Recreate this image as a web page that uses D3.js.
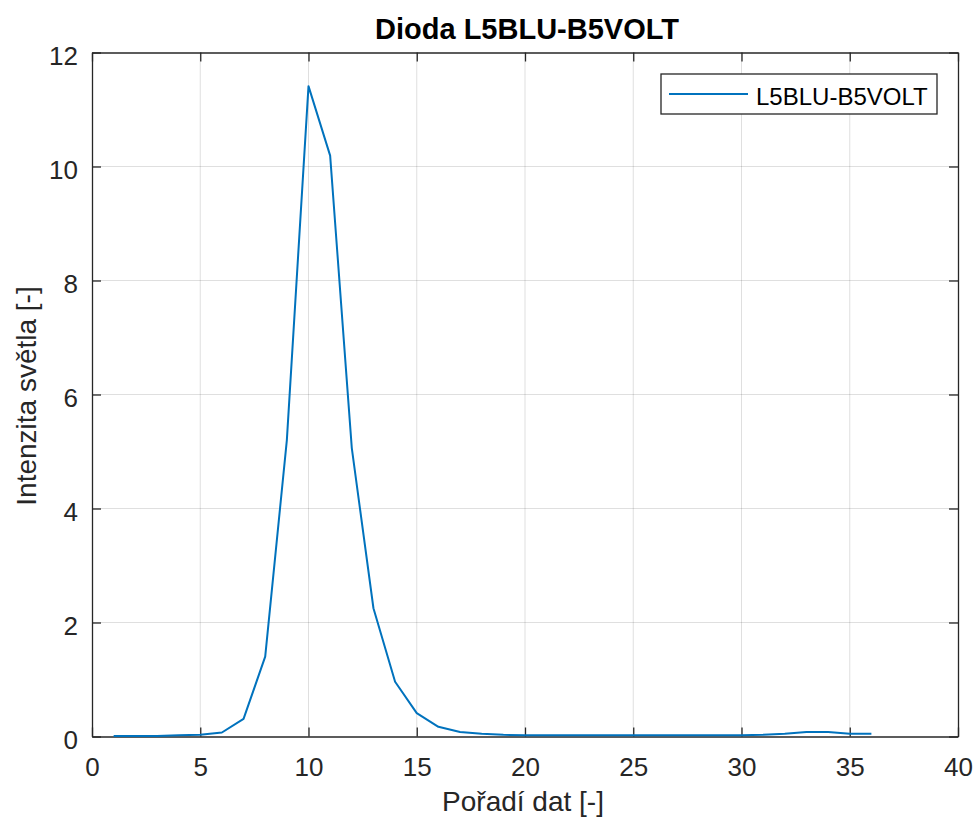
<!DOCTYPE html>
<html lang="cs">
<head>
    <meta charset="UTF-8">
    <title>Dioda L5BLU-B5VOLT</title>
    <script src="https://d3js.org/d3.v7.min.js"></script>
    <style>
        body { margin: 0; background: #fff; font-family: "Liberation Sans", Arial, sans-serif; }
        .grid line { stroke: #262626; stroke-opacity: 0.15; }
        .axis text { fill: #262626; }
    </style>
</head>
<body>
    <svg width="976" height="822"></svg>
    <script>
        // measured data (index 1..36)
        var poradi = d3.range(1, 37);
        var intenzita = [0.01, 0.01, 0.01, 0.02, 0.03, 0.07, 0.31, 1.40, 5.20, 11.41,
                         10.19, 5.06, 2.25, 0.96, 0.41, 0.17, 0.08, 0.05, 0.03, 0.02,
                         0.02, 0.02, 0.02, 0.02, 0.02, 0.02, 0.02, 0.02, 0.02, 0.02,
                         0.03, 0.05, 0.08, 0.08, 0.05, 0.05];
        var xTicks = [0, 5, 10, 15, 20, 25, 30, 35, 40];
        var yTicks = [0, 2, 4, 6, 8, 10, 12];
        var seriesName = "L5BLU-B5VOLT";

        var margin = { left: 92, top: 52.5, right: 18, bottom: 85.5 };
        var width = 976, height = 822;
        var svg = d3.select("svg");

        var x = d3.scaleLinear().domain([0, 40]).range([margin.left, width - margin.right]);
        var y = d3.scaleLinear().domain([0, 12]).range([height - margin.bottom, margin.top]);
        var ink = "#262626";

        // grid
        var grid = svg.append("g").attr("class", "grid");
        grid.selectAll(".gx").data(xTicks.slice(1, -1)).enter().append("line")
            .attr("x1", d => x(d)).attr("x2", d => x(d))
            .attr("y1", y(0)).attr("y2", y(12));
        grid.selectAll(".gy").data(yTicks.slice(1, -1)).enter().append("line")
            .attr("x1", x(0)).attr("x2", x(40))
            .attr("y1", d => y(d)).attr("y2", d => y(d));

        // axes with inward ticks
        var tl = 9;
        svg.append("g").attr("class", "axis")
            .attr("transform", "translate(0," + y(0) + ")")
            .call(d3.axisBottom(x).tickValues(xTicks).tickSizeInner(-tl).tickSizeOuter(0).tickPadding(21));
        svg.append("g").attr("class", "axis")
            .attr("transform", "translate(0," + y(12) + ")")
            .call(d3.axisTop(x).tickValues(xTicks).tickSizeInner(-tl).tickSizeOuter(0).tickFormat(""));
        var yAxis = svg.append("g").attr("class", "axis")
            .attr("transform", "translate(" + x(0) + ",0)")
            .call(d3.axisLeft(y).tickValues(yTicks).tickSizeInner(-tl).tickSizeOuter(0).tickPadding(14));
        yAxis.selectAll("text").attr("dy", "0.46em");
        svg.append("g").attr("class", "axis")
            .attr("transform", "translate(" + x(40) + ",0)")
            .call(d3.axisRight(y).tickValues(yTicks).tickSizeInner(-tl).tickSizeOuter(0).tickFormat(""));
        svg.selectAll(".axis path, .axis line").attr("stroke", ink).attr("stroke-width", 1.3);
        svg.selectAll(".axis text").attr("font-family", "Liberation Sans, Arial, sans-serif").attr("font-size", 26);

        // series
        var line = d3.line().x((d, i) => x(poradi[i])).y(d => y(d));
        svg.append("path")
            .datum(intenzita)
            .attr("fill", "none")
            .attr("stroke", "#0072BD")
            .attr("stroke-width", 2)
            .attr("stroke-linejoin", "round")
            .attr("d", line);

        // titles
        svg.append("text")
            .attr("x", 527).attr("y", 39)
            .attr("text-anchor", "middle")
            .attr("font-size", 29).attr("font-weight", "bold").attr("fill", "#000")
            .text("Dioda L5BLU-B5VOLT");
        svg.append("text")
            .attr("x", 523).attr("y", 811)
            .attr("text-anchor", "middle")
            .attr("font-size", 28).attr("fill", ink)
            .text("Pořadí dat [-]");
        svg.append("text")
            .attr("transform", "translate(36,396) rotate(-90)")
            .attr("text-anchor", "middle")
            .attr("font-size", 28).attr("fill", ink)
            .text("Intenzita světla [-]");

        // legend
        var lg = svg.append("g").attr("transform", "translate(661,74)");
        lg.append("rect").attr("width", 276).attr("height", 40)
            .attr("fill", "#fff").attr("stroke", ink).attr("stroke-width", 1.3);
        lg.append("line").attr("x1", 8).attr("x2", 87).attr("y1", 20).attr("y2", 20)
            .attr("stroke", "#0072BD").attr("stroke-width", 2);
        lg.append("text").attr("x", 95).attr("y", 31)
            .attr("font-size", 24).attr("fill", "#000")
            .text(seriesName);
    </script>
</body>
</html>
